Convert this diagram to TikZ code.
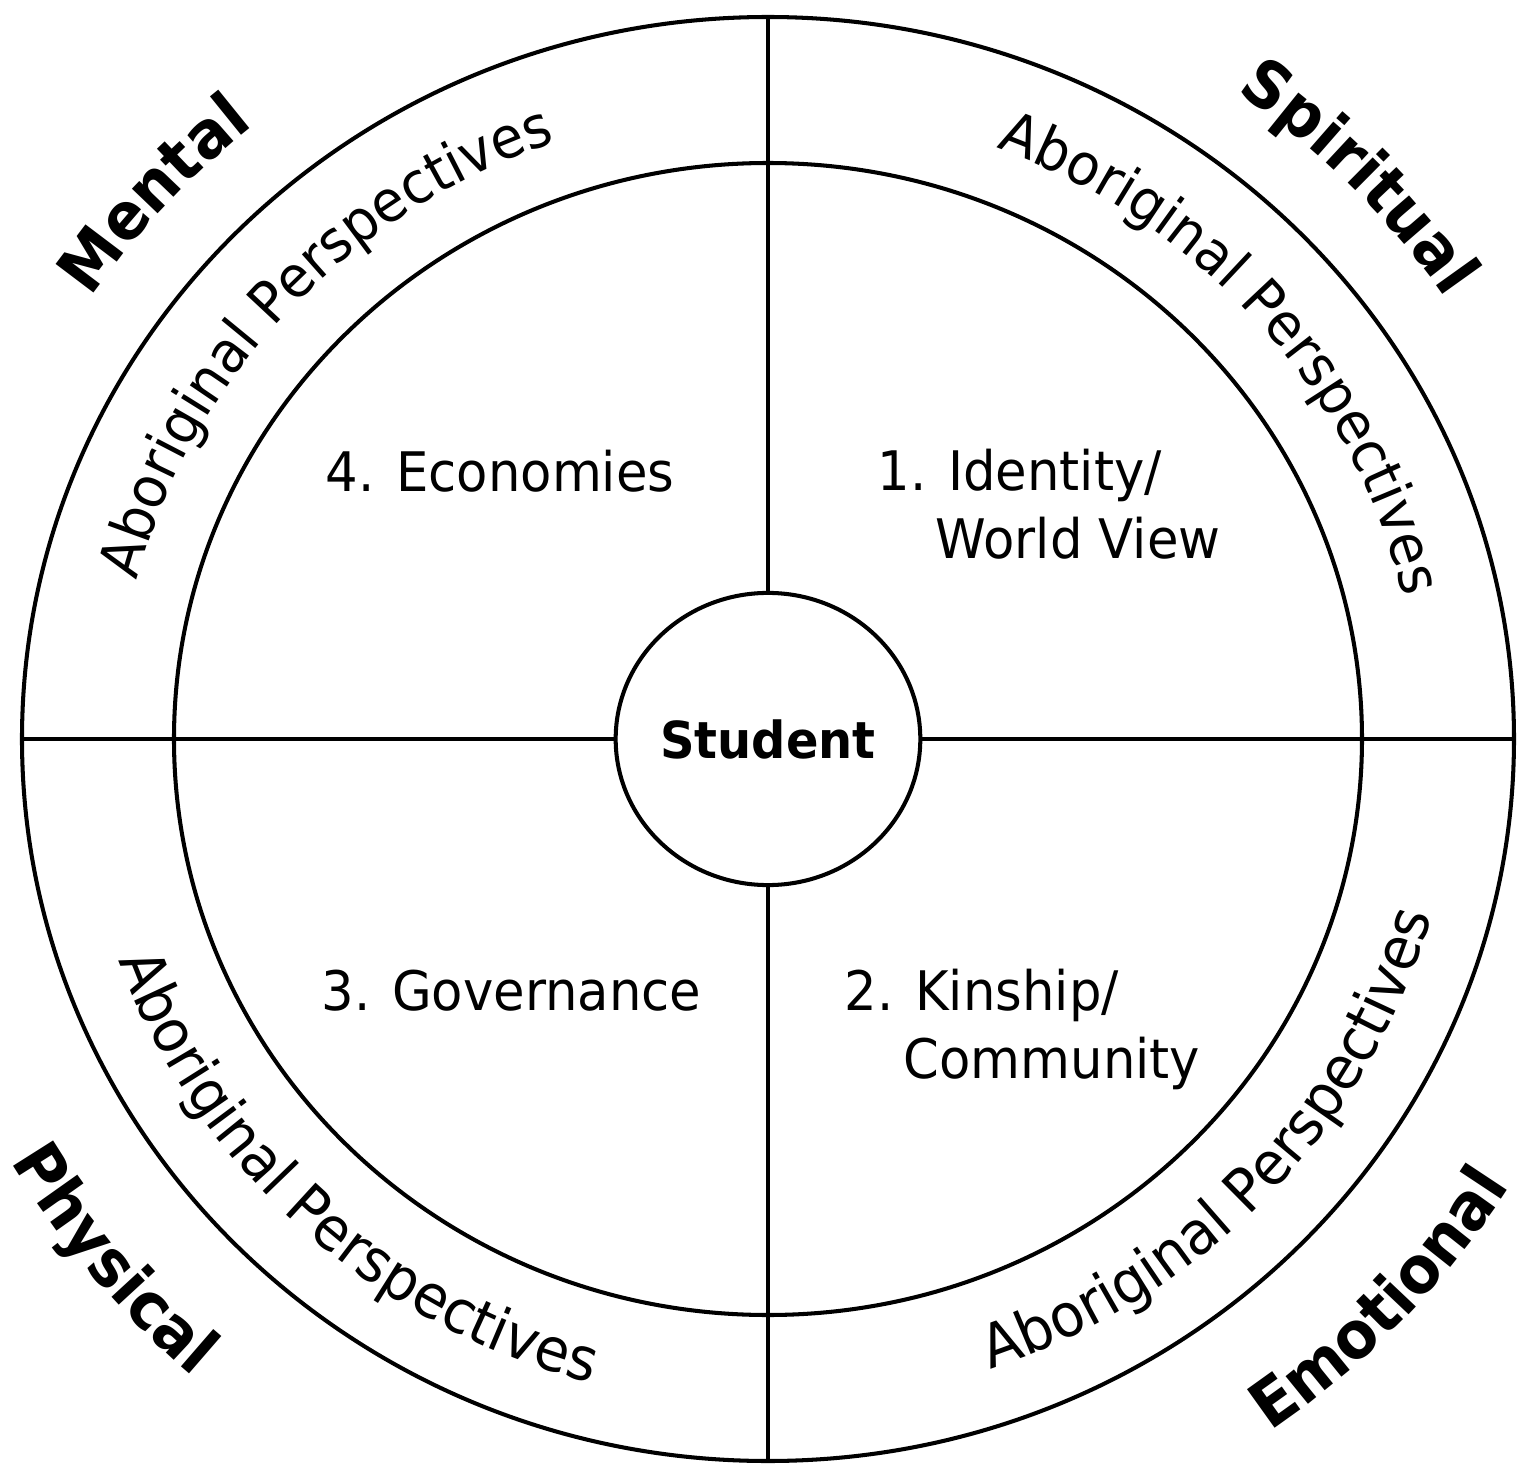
\documentclass[tikz,border=0pt]{standalone}
\usepackage{fontspec}
\setmainfont[FakeStretch=0.94]{DejaVu Sans}
\usetikzlibrary{decorations.text,shapes.geometric}

\newcommand{\quadfont}{\fontsize{15.5}{19.2}\selectfont}
\newcommand{\ringfont}{\fontsize{16.3}{19}\selectfont}
\newcommand{\ringfontlow}{\fontsize{17}{19}\selectfont}
\newcommand{\dirfont}{\fontsize{18.5}{22}\selectfont\bfseries}
\newcommand{\hubfont}{\fontsize{14.5}{17}\selectfont\bfseries}

\tikzset{
  wheel/.style   = {line width=1.15pt},
  hub/.style     = {ellipse, draw, line width=1.15pt, inner sep=0pt,
                    minimum width=3cm, minimum height=2.92cm, font=\hubfont},
  quadlabel/.style = {anchor=base west, inner sep=0pt, align=left, font=\quadfont},
  ringtop/.style = {decorate, decoration={text along path, text align=center,
                    text={|\ringfont|#1}}},
  ringlow/.style = {decorate, decoration={text along path, text align=center,
                    text={|\ringfontlow|#1}}},
  dirlabel/.style = {decorate, decoration={text along path, text align=center,
                    text={|\dirfont|#1}}},
}

\begin{document}
\begin{tikzpicture}[x=0.01cm, y=0.01cm]
    \useasboundingbox (-768,-724) rectangle (759,739);

    % rings
    \draw [wheel] (0,0) ellipse [x radius=746, y radius=722];
    \draw [wheel] (0,0) ellipse [x radius=594, y radius=576];

    \coordinate (rimN) at ( 90:746 and 722);
    \coordinate (rimS) at (270:746 and 722);
    \coordinate (rimW) at (180:746 and 722);
    \coordinate (rimE) at (  0:746 and 722);

    \node [hub] (student) at (0,0) {Student};

    % spokes
    \draw [wheel] (student.north) -- (rimN);
    \draw [wheel] (student.south) -- (rimS);
    \draw [wheel] (student.west)  -- (rimW);
    \draw [wheel] (student.east)  -- (rimE);

    % quadrants (base = last line)
    \node [quadlabel] (economies)  at (-443, 248) {4. Economies};
    \node [quadlabel] (identity)   at ( 109, 181) {1. Identity/\\\hspace*{0.58cm}World View};
    \node [quadlabel] (governance) at (-447,-271) {3. Governance};
    \node [quadlabel] (kinship)    at (  76,-339) {2. Kinship/\\\hspace*{0.59cm}Community};

    % Aboriginal Perspectives ring
    \path [ringtop=Aboriginal Perspectives] (182.5:652 and 631)
      arc [start angle=182.5, end angle= 92.5, x radius=652, y radius=631];
    \path [ringtop=Aboriginal Perspectives] ( 86:652 and 631)
      arc [start angle= 86, end angle= -4, x radius=652, y radius=631];
    \path [ringlow=Aboriginal Perspectives] (182:688 and 666)
      arc [start angle=182, end angle=272, x radius=688, y radius=666];
    \path [ringlow=Aboriginal Perspectives] (272:688 and 666)
      arc [start angle=272, end angle=362, x radius=688, y radius=666];

    % four directions
    \path [dirlabel=Mental]    (183:816 and 790)
      arc [start angle=183, end angle= 93, x radius=816, y radius=790];
    \path [dirlabel=Spiritual] ( 89:816 and 790)
      arc [start angle= 89, end angle= -1, x radius=816, y radius=790];
    \path [dirlabel=Physical]  (174:874 and 846)
      arc [start angle=174, end angle=264, x radius=874, y radius=846];
    \path [dirlabel=Emotional] (272:874 and 846)
      arc [start angle=272, end angle=362, x radius=874, y radius=846];
\end{tikzpicture}
\end{document}
